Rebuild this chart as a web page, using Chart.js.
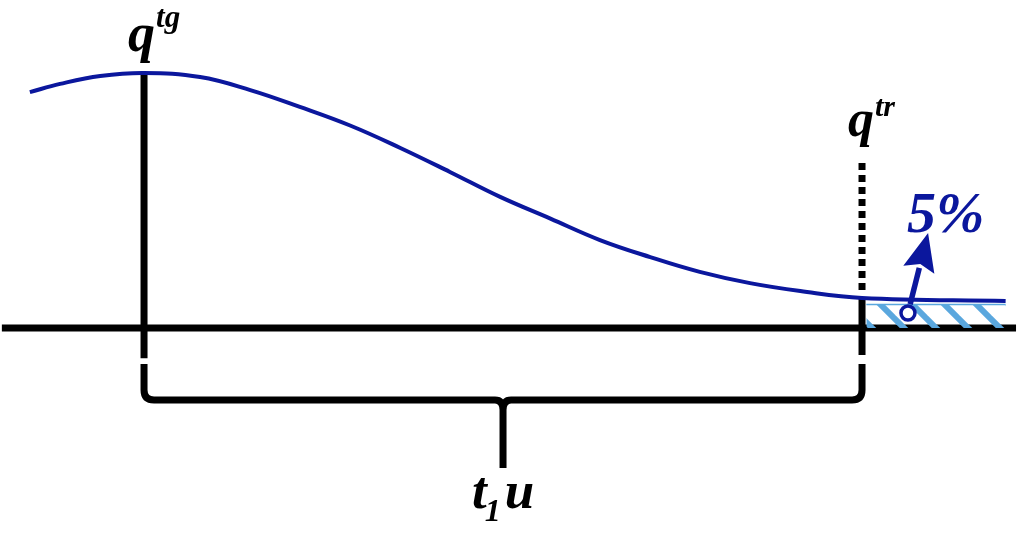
<!DOCTYPE html>
<html>
<head>
<meta charset="utf-8">
<script src="https://cdn.jsdelivr.net/npm/chart.js@4.4.1/dist/chart.umd.min.js"></script>
<style>
  html, body { margin: 0; padding: 0; background: #ffffff; }
  #c { display: block; }
</style>
</head>
<body>
<canvas id="c" width="1024" height="540"></canvas>
<script>
// ---- data (t: time in units of t1u, q: flow relative to the peak q^tg) ----
const curveT = [-0.159, -0.117, -0.061, 0.000, 0.078, 0.148, 0.217, 0.287, 0.357, 0.426, 0.496, 0.566, 0.635, 0.705, 0.774, 0.844, 0.914, 1.000, 1.200];
const curveQ = [ 0.925,  0.957,  0.988, 1.000, 0.984, 0.933, 0.867, 0.794, 0.706, 0.612, 0.514, 0.429, 0.345, 0.278, 0.220, 0.176, 0.145, 0.118, 0.106];
const hatchT = [1.006, 1.200];
const hatchQ = [0.092, 0.092];
const markerT = [1.064];
const markerQ = [0.059];
const arrowTipT = 1.092;
const arrowTipQ = 0.373;
const tPeak = 0;        // q^tg
const tRecess = 1;      // q^tr
const axisT = [-0.198, 1.2145];
const labelPeak = ['q', 'tg'];
const labelRecess = ['q', 'tr'];
const labelPct = '5%';
const labelSpan = ['t', '1', 'u'];

const BLUE = '#0b179d';
const HATCH = '#5aa7de';
const SERIF = '"Liberation Serif", "DejaVu Serif", serif';

function pts(ts, qs) { return ts.map((t, i) => ({ x: t, y: qs[i] })); }

function makePattern() {
  const c = document.createElement('canvas');
  c.width = 32; c.height = 32;
  const g = c.getContext('2d');
  g.strokeStyle = HATCH;
  g.lineWidth = 6;
  for (let k = -1; k <= 1; k++) {
    g.beginPath();
    g.moveTo(-8, -8 + k * 32);
    g.lineTo(40, 40 + k * 32);
    g.stroke();
  }
  return g.createPattern(c, 'repeat');
}

function drawSup(ctx, x, baseline, main, sup, mainSize, supSize, supRise, color) {
  ctx.fillStyle = color;
  ctx.textAlign = 'left';
  ctx.textBaseline = 'alphabetic';
  ctx.font = 'italic bold ' + mainSize + 'px ' + SERIF;
  ctx.fillText(main, x, baseline);
  const w = ctx.measureText(main).width;
  ctx.font = 'italic bold ' + supSize + 'px ' + SERIF;
  ctx.fillText(sup, x + w + 1, baseline - supRise);
}

const annot = {
  id: 'annot',
  afterDatasetsDraw(chart) {
    const ctx = chart.ctx;
    const xs = chart.scales.x, ys = chart.scales.y;
    const px = v => xs.getPixelForValue(v);
    const py = v => ys.getPixelForValue(v);
    ctx.save();

    // brace under the span t1u
    const xL = px(tPeak), xR = px(tRecess), xC = px((tPeak + tRecess) / 2);
    const yTop = py(0) + 36, yH = py(0) + 72, yStem = py(0) + 140;
    ctx.strokeStyle = '#000';
    ctx.lineWidth = 7;
    ctx.lineCap = 'butt';
    ctx.lineJoin = 'round';
    ctx.beginPath();
    ctx.moveTo(xL, yTop);
    ctx.lineTo(xL, yH - 10);
    ctx.quadraticCurveTo(xL, yH, xL + 10, yH);
    ctx.lineTo(xC - 8, yH);
    ctx.quadraticCurveTo(xC, yH, xC, yH + 10);
    ctx.lineTo(xC, yStem);
    ctx.moveTo(xR, yTop);
    ctx.lineTo(xR, yH - 10);
    ctx.quadraticCurveTo(xR, yH, xR - 10, yH);
    ctx.lineTo(xC + 8, yH);
    ctx.quadraticCurveTo(xC, yH, xC, yH + 10);
    ctx.stroke();

    // arrow from the 5% marker
    const cx = px(markerT[0]), cy = py(markerQ[0]);
    const tx = px(arrowTipT), ty = py(arrowTipQ);
    const ang = Math.atan2(ty - cy, tx - cx);
    const ux = Math.cos(ang), uy = Math.sin(ang);
    const sx = cx + ux * 9, sy = cy + uy * 9;
    const headLen = 38, headHalf = 16;
    const bx = tx - ux * headLen, by = ty - uy * headLen;
    ctx.strokeStyle = BLUE;
    ctx.lineWidth = 5.5;
    ctx.beginPath();
    ctx.moveTo(sx, sy);
    ctx.lineTo(bx + ux * 2, by + uy * 2);
    ctx.stroke();
    ctx.fillStyle = BLUE;
    ctx.beginPath();
    ctx.moveTo(tx, ty);
    ctx.lineTo(bx - uy * headHalf, by + ux * headHalf);
    ctx.lineTo(bx + ux * 6, by + uy * 6);
    ctx.lineTo(bx + uy * headHalf, by - ux * headHalf);
    ctx.closePath();
    ctx.fill();

    // labels
    drawSup(ctx, xL - 16, py(1) - 22, labelPeak[0], labelPeak[1], 54, 31, 24, '#000');
    drawSup(ctx, xR - 14, py(0.647) - 27, labelRecess[0], labelRecess[1], 52, 30, 20, '#000');

    ctx.fillStyle = BLUE;
    ctx.font = 'italic bold 58px ' + SERIF;
    ctx.textAlign = 'left';
    ctx.fillText(labelPct, tx - 21, ty - 1);

    // t_1 u
    ctx.fillStyle = '#000';
    ctx.font = 'italic bold 53px ' + SERIF;
    const w1 = ctx.measureText(labelSpan[0]).width;
    ctx.font = 'italic bold 32px ' + SERIF;
    const w2 = ctx.measureText(labelSpan[1]).width;
    ctx.font = 'italic bold 53px ' + SERIF;
    const w3 = ctx.measureText(labelSpan[2]).width;
    const total = w1 + w2 + w3 + 2;
    let x0 = xC - total / 2;
    const base = py(0) + 180;
    ctx.fillText(labelSpan[0], x0, base);
    ctx.font = 'italic bold 32px ' + SERIF;
    ctx.fillText(labelSpan[1], x0 + w1 - 2, base + 13);
    ctx.font = 'italic bold 53px ' + SERIF;
    ctx.fillText(labelSpan[2], x0 + w1 + w2 + 2, base);

    ctx.restore();
  }
};

const ctx = document.getElementById('c').getContext('2d');
new Chart(ctx, {
  type: 'line',
  data: {
    datasets: [
      { data: pts(markerT, markerQ), showLine: false, pointRadius: 7, pointBorderWidth: 3.5,
        pointBackgroundColor: '#ffffff', pointBorderColor: BLUE, pointStyle: 'circle' },
      { data: pts(curveT, curveQ), borderColor: BLUE, borderWidth: 4, tension: 0.4,
        pointRadius: 0, fill: false },
      { data: pts(hatchT, hatchQ), borderColor: HATCH, borderWidth: 1.5, pointRadius: 0,
        fill: 'origin', backgroundColor: makePattern() },
      { data: pts([tPeak, tPeak], [1.0, -0.118]), borderColor: '#000', borderWidth: 7, pointRadius: 0 },
      { data: pts([tRecess, tRecess], [0.118, -0.106]), borderColor: '#000', borderWidth: 7, pointRadius: 0 },
      { data: pts([tRecess, tRecess], [0.647, 0.149]), borderColor: '#000', borderWidth: 7, borderDash: [7, 5], pointRadius: 0 },
      { data: pts(axisT, [0, 0]), borderColor: '#000', borderWidth: 7, pointRadius: 0 }
    ]
  },
  options: {
    responsive: false,
    animation: false,
    layout: { padding: 0, autoPadding: false },
    plugins: { legend: { display: false }, tooltip: { enabled: false } },
    scales: {
      x: { type: 'linear', display: false, min: -0.2006, max: 1.2256 },
      y: { type: 'linear', display: false, min: -0.831, max: 1.286 }
    }
  },
  plugins: [annot]
});
</script>
</body>
</html>
